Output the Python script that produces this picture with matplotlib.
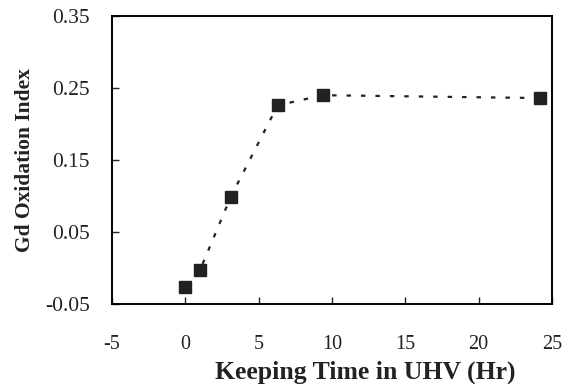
"""Gd oxidation index vs keeping time in UHV."""
import matplotlib
matplotlib.use("Agg")
import matplotlib.pyplot as plt

# values
time_hr = [0.0, 1.0, 3.1, 6.3, 9.4, 24.2]
ox_index = [-0.026, -0.003, 0.099, 0.226, 0.240, 0.236]

xticks = [-5, 0, 5, 10, 15, 20, 25]
yticks = [-0.05, 0.05, 0.15, 0.25, 0.35]
ylabels = ['-0.05', '0.05', '0.15', '0.25', '0.35']

INK = '#222222'
plt.rcParams.update({'font.family': 'Liberation Serif', 'axes.linewidth': 1.4,
                     'axes.unicode_minus': False})
fig = plt.figure(figsize=(5.63, 3.84), dpi=100)
ax = fig.add_axes([112/563, 80/384, 440/563, 288/384])

ax.plot(time_hr, ox_index, color=INK, linestyle=(0, (2, 4.5)), linewidth=1.6,
        marker='s', markersize=8.5, markerfacecolor=INK, markeredgecolor=INK)

ax.set_xlim(-5, 25)
ax.set_ylim(-0.05, 0.35)
ax.set_xticks(xticks)
ax.set_yticks(yticks)
ax.set_yticklabels(ylabels)
ax.tick_params(direction='in', length=5, width=1, labelsize=15.5, colors=INK)
ax.tick_params(axis='x', pad=22, labelsize=14.5)
ax.tick_params(axis='y', pad=16)

ax.set_xlabel('Keeping Time in UHV (Hr)', fontsize=18.5, fontweight='bold', color=INK)
ax.xaxis.set_label_coords(0.575, -0.195)
ax.set_ylabel('Gd Oxidation Index', fontsize=15.5, fontweight='bold', color=INK, labelpad=7)

plt.savefig('out.png', dpi=100)
